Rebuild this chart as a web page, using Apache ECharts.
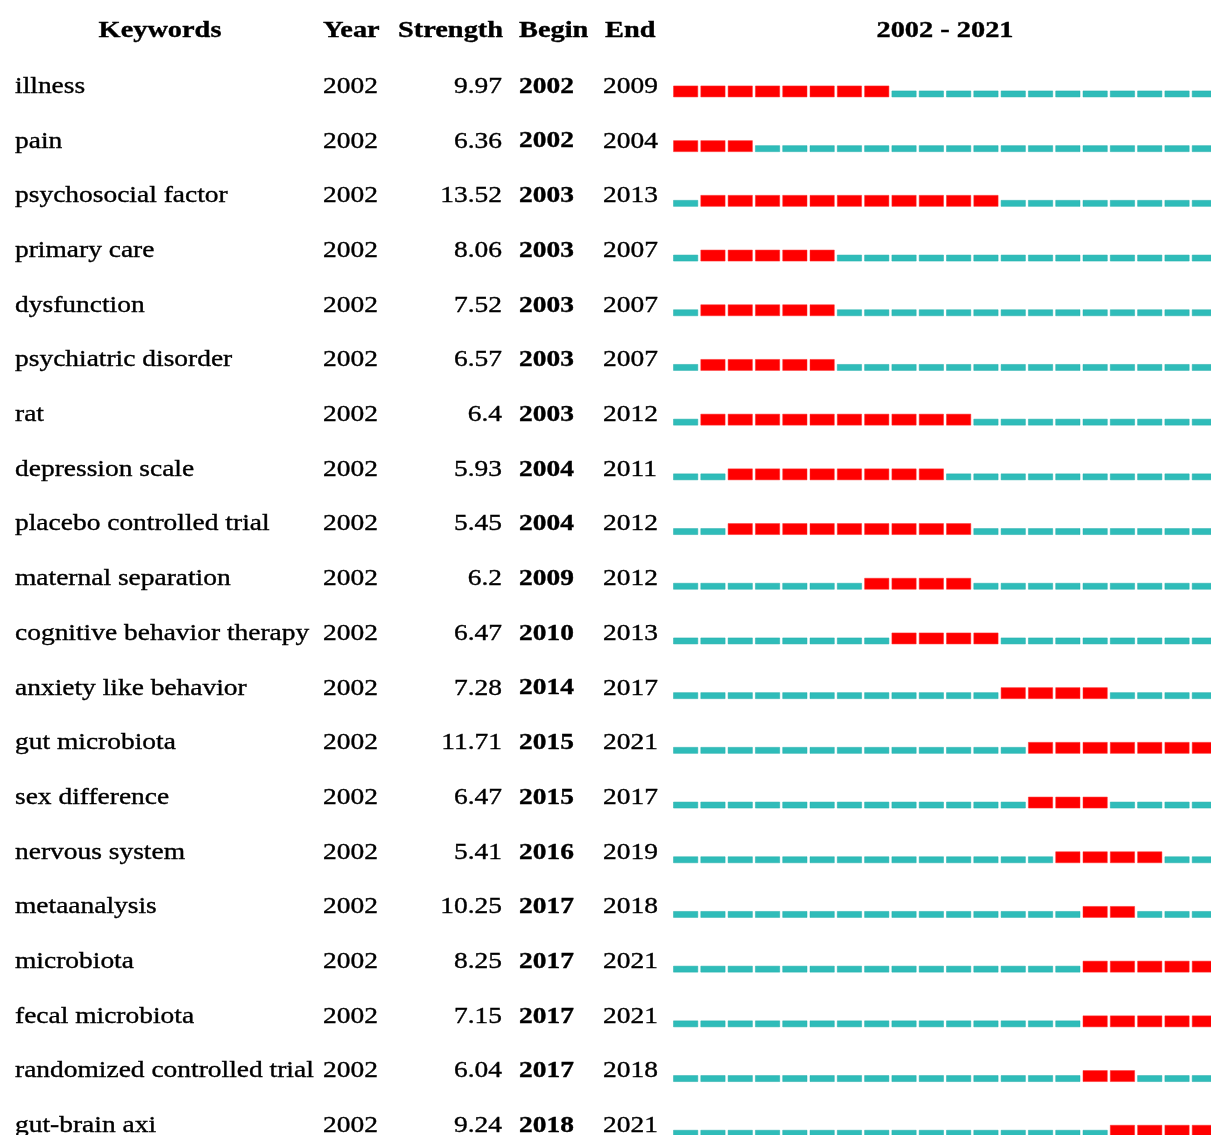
<!DOCTYPE html>
<html>
<head>
<meta charset="utf-8">
<script src="https://cdn.jsdelivr.net/npm/echarts@6/dist/echarts.min.js"></script>
<style>
  html, body { margin: 0; padding: 0; background: #fff; }
  #chart { width: 1211px; height: 1135px; }
</style>
</head>
<body>
<div id="chart"></div>
<script>
// keyword burst table
const keywords = [
  'illness', 'pain', 'psychosocial factor', 'primary care', 'dysfunction',
  'psychiatric disorder', 'rat', 'depression scale', 'placebo controlled trial',
  'maternal separation', 'cognitive behavior therapy', 'anxiety like behavior',
  'gut microbiota', 'sex difference', 'nervous system', 'metaanalysis',
  'microbiota', 'fecal microbiota', 'randomized controlled trial', 'gut-brain axi'
]
const firstYears = [2002, 2002, 2002, 2002, 2002, 2002, 2002, 2002, 2002, 2002,
  2002, 2002, 2002, 2002, 2002, 2002, 2002, 2002, 2002, 2002]
const strengths = [9.97, 6.36, 13.52, 8.06, 7.52, 6.57, 6.4, 5.93, 5.45, 6.2,
  6.47, 7.28, 11.71, 6.47, 5.41, 10.25, 8.25, 7.15, 6.04, 9.24]
const begins = [2002, 2002, 2003, 2003, 2003, 2003, 2003, 2004, 2004, 2009,
  2010, 2014, 2015, 2015, 2016, 2017, 2017, 2017, 2017, 2018]
const ends = [2009, 2004, 2013, 2007, 2007, 2007, 2012, 2011, 2012, 2012,
  2013, 2017, 2021, 2017, 2019, 2018, 2021, 2021, 2018, 2021]
const startYear = 2002
const endYear = 2021
const headers = ['Keywords', 'Year', 'Strength', 'Begin', 'End']

const FONT = '"Liberation Serif", "Times New Roman", serif'
const FS = 22.5
const SX = 1.22 // source image is a bit stretched horizontally

function txt(text, x, y, align, bold, sx) {
  return {
    type: 'text',
    x: x,
    y: y,
    scaleX: sx || SX,
    style: {
      text: text,
      x: 0,
      y: 0,
      align: align,
      verticalAlign: 'middle',
      fontFamily: FONT,
      fontSize: FS,
      fontWeight: bold ? 'bold' : 'normal',
      fill: '#000',
      stroke: '#000',
      lineWidth: 0.35
    }
  }
}

const rows = keywords.map((k, i) => [i, begins[i], ends[i]])

const chart = echarts.init(document.getElementById('chart'))
chart.setOption({
  animation: false,
  backgroundColor: '#fff',
  grid: { left: 673, top: 57.6, width: 546, height: 1094, outerBoundsMode: 'none', containLabel: false },
  xAxis: { type: 'value', min: startYear, max: endYear + 1, show: false },
  yAxis: { type: 'category', data: keywords, inverse: true, show: false },
  graphic: [
    txt(headers[0], 160, 31, 'center', true, 1.26),
    txt(headers[1], 323, 31, 'left', true, 1.26),
    txt(headers[2], 398, 31, 'left', true, 1.26),
    txt(headers[3], 519, 31, 'left', true, 1.26),
    txt(headers[4], 605, 31, 'left', true, 1.26),
    txt(startYear + ' - ' + endYear, 945, 31, 'center', true, 1.26)
  ],
  series: [
    {
      // table text columns
      type: 'custom',
      data: rows,
      renderItem: function (params, api) {
        const i = api.value(0)
        const y = api.coord([startYear, i])[1] + 2
        return {
          type: 'group',
          children: [
            txt(keywords[i], 15, y, 'left', false),
            txt(String(firstYears[i]), 323, y, 'left', false),
            txt(String(strengths[i]), 502, y, 'right', false),
            txt(String(begins[i]), 519, y, 'left', true),
            txt(String(ends[i]), 603, y, 'left', false)
          ]
        }
      }
    },
    {
      // burst cells
      type: 'custom',
      data: rows,
      renderItem: function (params, api) {
        const i = api.value(0)
        const b = api.value(1)
        const e = api.value(2)
        const pitch = api.size([1, 0])[0]
        const cells = []
        for (let yr = startYear; yr <= endYear; yr++) {
          const p = api.coord([yr, i])
          const hot = yr >= b && yr <= e
          const h = hot ? 11 : 6
          cells.push({
            type: 'rect',
            shape: { x: p[0] + 0.5, y: p[1] + 12 - h, width: pitch - 3, height: h },
            style: hot
              ? { fill: '#ff0000', stroke: '#ff2a2a', lineWidth: 0.5 }
              : { fill: '#2fbcb9', stroke: '#22aeab', lineWidth: 0.5 }
          })
        }
        return { type: 'group', children: cells }
      }
    }
  ]
})
window.addEventListener('resize', () => {
  chart.resize()
})
</script>
</body>
</html>
